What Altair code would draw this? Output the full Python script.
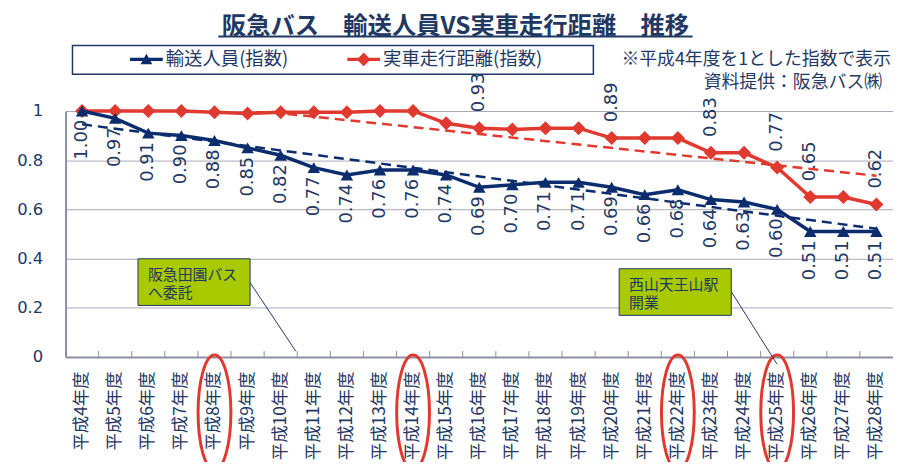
import json
import altair as alt
import pandas as pd

# ---------------- data ----------------
years = ["平成4年度", "平成5年度", "平成6年度", "平成7年度", "平成8年度", "平成9年度",
         "平成10年度", "平成11年度", "平成12年度", "平成13年度", "平成14年度", "平成15年度",
         "平成16年度", "平成17年度", "平成18年度", "平成19年度", "平成20年度", "平成21年度",
         "平成22年度", "平成23年度", "平成24年度", "平成25年度", "平成26年度", "平成27年度",
         "平成28年度"]
series_names = ["輸送人員(指数)", "実車走行距離(指数)"]
passengers = [1.00, 0.97, 0.91, 0.90, 0.88, 0.85, 0.82, 0.77, 0.74, 0.76, 0.76, 0.74,
              0.69, 0.70, 0.71, 0.71, 0.69, 0.66, 0.68, 0.64, 0.63, 0.60, 0.51, 0.51, 0.51]
distance = [1.00, 1.00, 1.00, 1.00, 0.995, 0.99, 0.995, 0.995, 0.995, 1.00, 1.00, 0.95,
            0.93, 0.925, 0.93, 0.93, 0.89, 0.89, 0.89, 0.83, 0.83, 0.77, 0.65, 0.65, 0.62]
distance_label_years = ["平成16年度", "平成20年度", "平成23年度", "平成25年度", "平成26年度", "平成28年度"]
highlight_years = ["平成8年度", "平成14年度", "平成22年度", "平成25年度"]
title_text = "阪急バス　輸送人員VS実車走行距離　推移"
note_lines = ["※平成4年度を1とした指数で表示", "資料提供：阪急バス㈱"]
callouts = ["阪急田園バス\nへ委託", "西山天王山駅\n開業"]
y_ticks = [0, 0.2, 0.4, 0.6, 0.8, 1.0]

# ---------------- style ----------------
NAVY = "#0b2d6e"
TEXT_NAVY = "#1f3864"
RED = "#e0392f"
GREEN = "#a9c900"
GRAY = "#8c8fa6"
GRID = "#a7a9b8"
W, H = 834, 248
CJK = "Noto Sans CJK JP"
NUM = "DejaVu Sans"

PATH_TRI = "M-1,-0.1L1,-0.1L1,0.1L-1,0.1Z M-0.36,0.3L0,-0.34L0.36,0.3Z"
PATH_DIA = "M-1,-0.1L1,-0.1L1,0.1L-1,0.1Z M-0.42,0L0,-0.42L0.42,0L0,0.42Z"
a, k = 0.285, 0.5523
ELLIPSE = (f"M0,-1C{k*a:.4f},-1 {a},{-k} {a},0C{a},{k} {k*a:.4f},1 0,1"
           f"C{-k*a:.4f},1 {-a},{k} {-a},0C{-a},{-k} {-k*a:.4f},-1 0,-1Z")

n = len(years)
df = pd.DataFrame({
    "i": list(range(n)) * 2,
    "year": years * 2,
    "series": [series_names[0]] * n + [series_names[1]] * n,
    "v": passengers + distance,
})
df["label"] = df["v"].map(lambda x: f"{x:.2f}")
df_pass = df[df.series == series_names[0]]
df_dist = df[df.series == series_names[1]]
df_dist_lab = df_dist[df_dist.year.isin(distance_label_years)]
one = pd.DataFrame({"k": [0]})

xscale = alt.Scale(type="band", domain=years, paddingInner=0, paddingOuter=0)
xaxis = alt.Axis(title=None, labelAngle=270, labelFont=CJK, labelFontSize=17.5,
                 labelColor=TEXT_NAVY, labelPadding=14, ticks=False, domainColor=GRAY,
                 domainWidth=2, grid=False, labelOverlap=False)
yscale = alt.Scale(domain=[0, 1], nice=False)
yaxis = alt.Axis(title=None, values=y_ticks, format=".1~f", labelFont=NUM, labelFontSize=16.5,
                 labelColor=TEXT_NAVY, ticks=False, labelPadding=23, domainColor=GRAY,
                 domainWidth=2, gridColor=GRID, gridWidth=1)


def X(**kw):
    return alt.X("year:N", scale=xscale, axis=xaxis, **kw)


Y = alt.Y("v:Q", scale=yscale, axis=yaxis)
years_expr = json.dumps(years, ensure_ascii=False)

layers = []

# legend frame
layers.append(alt.Chart(one).mark_rect(fill="white", stroke=TEXT_NAVY, strokeWidth=1.5).encode(
    x=alt.value(7), x2=alt.value(532), y=alt.value(-66), y2=alt.value(-37)))

# trend lines (linear regression computed by Vega)
for name, color in [(series_names[0], NAVY), (series_names[1], RED)]:
    layers.append(
        alt.Chart(df).transform_filter(alt.datum.series == name)
        .transform_regression("i", "v")
        .transform_filter("abs(datum.i - round(datum.i)) < 1e-6")
        .transform_calculate(year=f"{years_expr}[round(datum.i)]")
        .mark_line(color=color, strokeDash=[10, 6], strokeWidth=2.5, clip=True)
        .encode(x=X(), y=Y))

# solid lines and markers
layers.append(alt.Chart(df_dist).mark_line(color=RED, strokeWidth=3.5).encode(x=X(), y=Y))
layers.append(alt.Chart(df_dist).mark_point(filled=True, shape="diamond", size=200, color=RED,
                                            opacity=1).encode(x=X(), y=Y))
layers.append(alt.Chart(df_pass).mark_line(color=NAVY, strokeWidth=3.5).encode(x=X(), y=Y))
layers.append(alt.Chart(df_pass).mark_point(filled=True, shape="triangle-up", size=160, color=NAVY,
                                            opacity=1).encode(x=X(), y=Y))

# data labels
layers.append(alt.Chart(df_pass).mark_text(angle=270, align="right", baseline="middle", dx=-9,
                                           font=NUM, fontSize=18, color=TEXT_NAVY)
              .encode(x=X(), y=Y, text="label:N"))
layers.append(alt.Chart(df_dist_lab).mark_text(angle=270, align="left", baseline="middle", dx=16,
                                               font=NUM, fontSize=18, color=TEXT_NAVY)
              .encode(x=X(), y=Y, text="label:N"))

# tick marks between categories
layers.append(alt.Chart(pd.DataFrame({"year": years})).mark_rule(color=GRAY, strokeWidth=1)
              .encode(x=X(bandPosition=0), y=alt.value(H - 6), y2=alt.value(H)))

# highlight ellipses around axis labels
layers.append(alt.Chart(pd.DataFrame({"year": highlight_years}))
              .mark_point(shape=ELLIPSE, size=13456, filled=False, color=RED, strokeWidth=3,
                          opacity=1, clip=False)
              .encode(x=X(), y=alt.value(H + 56)))

# callouts
for (bx, by, text), (lx1, ly1, lx2, ly2) in [((73, 149, callouts[0]), (186, 173, 232, 242)),
                                              ((558, 159, callouts[1]), (671, 182, 717, 255))]:
    layers.append(alt.Chart(one).mark_rule(color=TEXT_NAVY, strokeWidth=1).encode(
        x=alt.value(lx1), y=alt.value(ly1), x2=alt.value(lx2), y2=alt.value(ly2)))
    layers.append(alt.Chart(one).mark_rect(fill=GREEN, stroke=TEXT_NAVY, strokeWidth=1).encode(
        x=alt.value(bx), x2=alt.value(bx + 113), y=alt.value(by), y2=alt.value(by + 47)))
    layers.append(alt.Chart(pd.DataFrame({"t": [text]})).mark_text(
        align="left", baseline="top", lineBreak="\n", lineHeight=19, font=CJK, fontSize=15,
        color=TEXT_NAVY).encode(x=alt.value(bx + 10), y=alt.value(by + 9), text="t:N"))

# title with underline
layers.append(alt.Chart(pd.DataFrame({"t": [title_text]})).mark_text(
    align="center", baseline="alphabetic", font=CJK, fontSize=24.5, fontWeight="bold",
    color=TEXT_NAVY).encode(x=alt.value(393), y=alt.value(-78), text="t:N"))
layers.append(alt.Chart(one).mark_rule(color=TEXT_NAVY, strokeWidth=2).encode(
    x=alt.value(154), x2=alt.value(632), y=alt.value(-75)))

# notes
layers.append(alt.Chart(pd.DataFrame({"t": [note_lines[0]]})).mark_text(
    align="right", baseline="alphabetic", font=CJK, fontSize=18, color=TEXT_NAVY)
    .encode(x=alt.value(832), y=alt.value(-46), text="t:N"))
layers.append(alt.Chart(pd.DataFrame({"t": [note_lines[1]]})).mark_text(
    align="right", baseline="alphabetic", font=CJK, fontSize=18, color=TEXT_NAVY)
    .encode(x=alt.value(823), y=alt.value(-23), text="t:N"))

# legend (from an empty layer with explicit domains)
leg = alt.Legend(title=None, orient="none", legendX=65, legendY=-68.5, direction="horizontal",
                 symbolSize=1089, symbolStrokeWidth=0, labelFont=CJK, labelFontSize=18.5,
                 labelColor=TEXT_NAVY, labelOffset=3, labelLimit=400, columnPadding=59, padding=0)
layers.append(alt.Chart(df).transform_filter("false").mark_point(filled=True, opacity=1).encode(
    x=X(), y=Y,
    color=alt.Color("series:N", scale=alt.Scale(domain=series_names, range=[NAVY, RED]), legend=leg),
    shape=alt.Shape("series:N", scale=alt.Scale(domain=series_names, range=[PATH_TRI, PATH_DIA]),
                    legend=leg)))

chart = alt.layer(*layers).properties(
    width=W, height=H,
    padding={"left": 58, "top": 102, "right": 0, "bottom": 104},
    autosize=alt.AutoSizeParams(type="none"),
).configure_view(stroke=None)

chart.save("out.html", embed_options={"renderer": "svg", "actions": False})
